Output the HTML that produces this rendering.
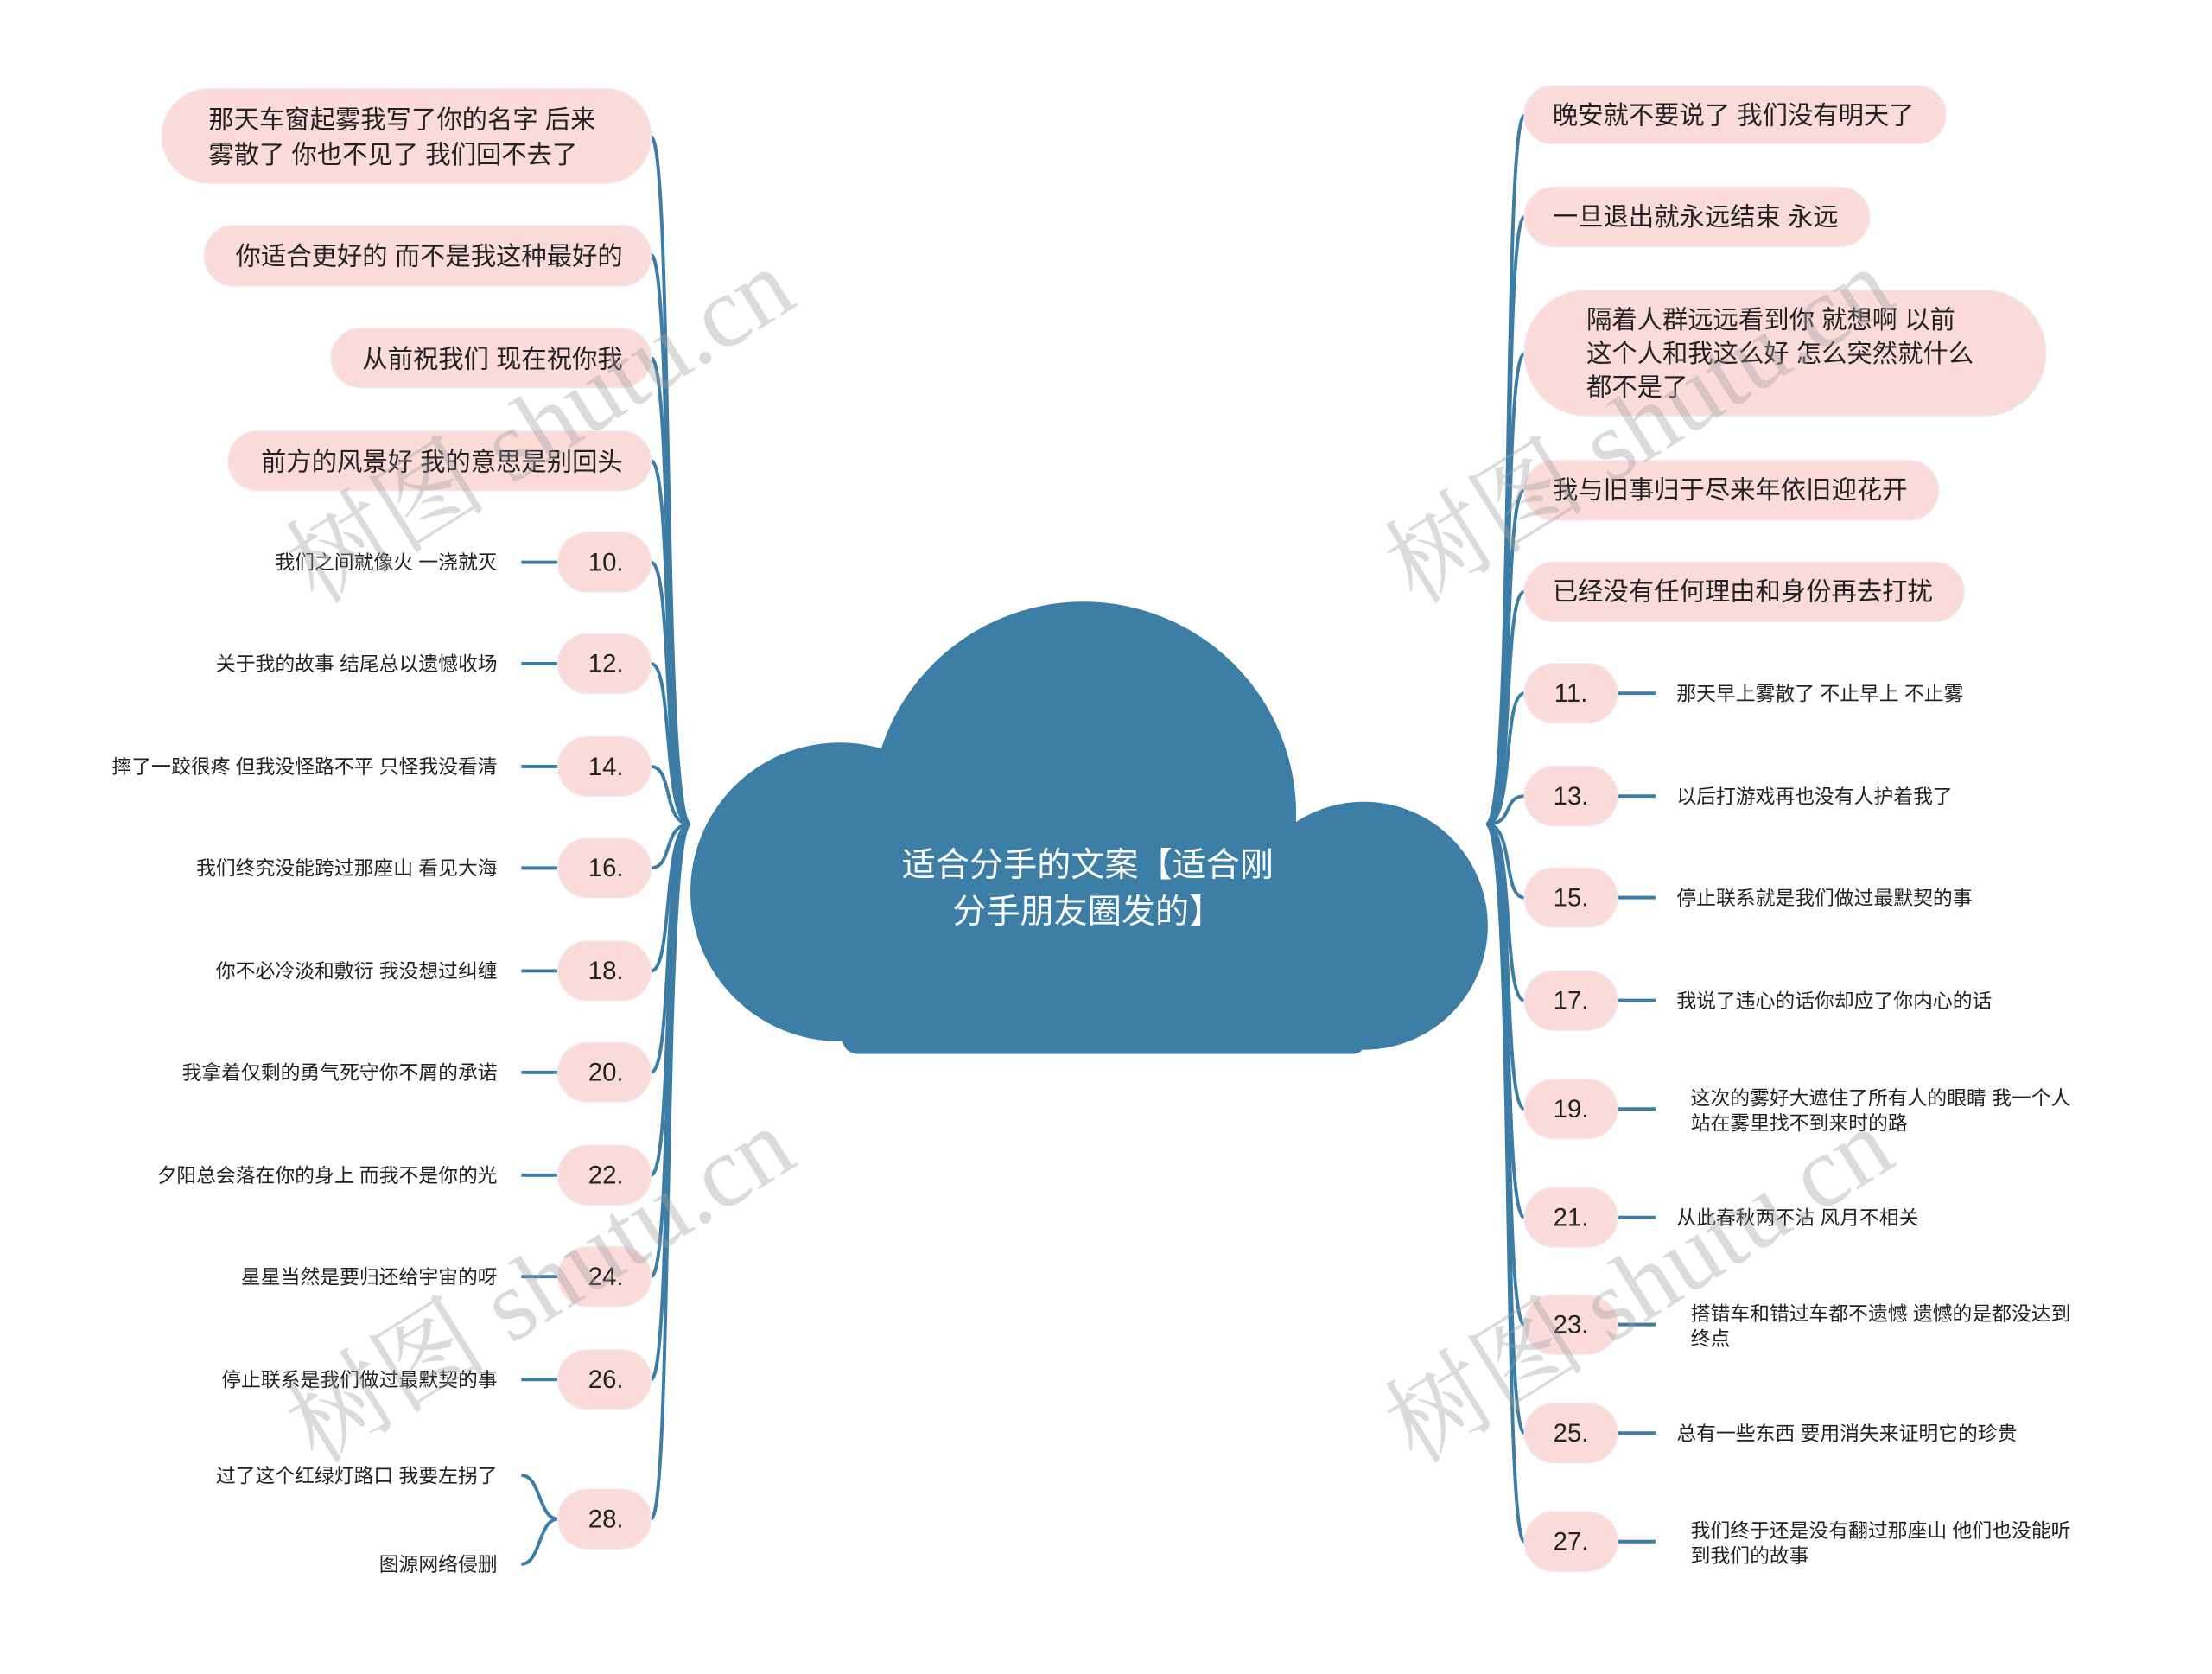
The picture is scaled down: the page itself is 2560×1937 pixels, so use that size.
<!DOCTYPE html>
<html><head><meta charset="utf-8"><style>
html,body{margin:0;padding:0;background:#fff;}
svg{display:block;}
text{font-family:"Liberation Sans","Noto Sans CJK SC",sans-serif;fill:#222;}
.p{fill:#fbdada;stroke:#f6e4e4;stroke-width:1;}
.c{fill:none;stroke:#3c7ca5;stroke-width:2.4;}
.w{font-family:"Liberation Serif","Noto Serif CJK SC",serif;fill:rgba(160,160,160,0.38);font-size:72px;}
</style></head><body>
<svg width="2560" height="1937" viewBox="0 0 1570 1188" xmlns="http://www.w3.org/2000/svg">
<g fill="#3d7ea6">
<circle cx="769" cy="578" r="151"/>
<circle cx="596" cy="633" r="106"/>
<circle cx="968" cy="657" r="88"/>
<path d="M596 600 H968 V740 Q968 748 960 748 H610 Q600 748 598 739 Z"/>
</g>
<text x="772" y="622" text-anchor="middle" font-size="24" style="fill:#fff">适合分手的文案【适合刚</text>
<text x="772" y="655" text-anchor="middle" font-size="24" style="fill:#fff">分手朋友圈发的】</text>

<g class="c">
<path d="M490 585 C470 585 478 97 462 97"/>
<path d="M490 585 C470 585 478 181 462 181"/>
<path d="M490 585 C470 585 478 254 462 254"/>
<path d="M490 585 C470 585 478 327 462 327"/>
<path d="M490 585 C470 585 478 399 462 399"/>
<path d="M490 585 C470 585 478 471 462 471"/>
<path d="M490 585 C470 585 478 544 462 544"/>
<path d="M490 585 C470 585 478 616 462 616"/>
<path d="M490 585 C470 585 478 689 462 689"/>
<path d="M490 585 C470 585 478 761 462 761"/>
<path d="M490 585 C470 585 478 834 462 834"/>
<path d="M490 585 C470 585 478 906 462 906"/>
<path d="M490 585 C470 585 478 979 462 979"/>
<path d="M490 585 C470 585 478 1078 462 1078"/>
<path d="M370 399 H396 M370 471 H396 M370 544 H396 M370 616 H396 M370 689 H396 M370 761 H396 M370 834 H396 M370 906 H396 M370 979 H396"/>
<path d="M396 1078 C382 1078 384 1047 370 1047 M396 1078 C382 1078 384 1110 370 1110"/>
</g>
<g class="c">
<path d="M1055 585 C1075 585 1066 82 1082 82"/>
<path d="M1055 585 C1075 585 1066 154 1082 154"/>
<path d="M1055 585 C1075 585 1066 251 1082 251"/>
<path d="M1055 585 C1075 585 1066 348 1082 348"/>
<path d="M1055 585 C1075 585 1066 420 1082 420"/>
<path d="M1055 585 C1075 585 1066 492 1082 492"/>
<path d="M1055 585 C1075 585 1066 565 1082 565"/>
<path d="M1055 585 C1075 585 1066 637 1082 637"/>
<path d="M1055 585 C1075 585 1066 710 1082 710"/>
<path d="M1055 585 C1075 585 1066 787 1082 787"/>
<path d="M1055 585 C1075 585 1066 864 1082 864"/>
<path d="M1055 585 C1075 585 1066 940 1082 940"/>
<path d="M1055 585 C1075 585 1066 1017 1082 1017"/>
<path d="M1055 585 C1075 585 1066 1094 1082 1094"/>
<path d="M1148 492 H1175 M1148 565 H1175 M1148 637 H1175 M1148 710 H1175 M1148 787 H1175 M1148 864 H1175 M1148 940 H1175 M1148 1017 H1175 M1148 1094 H1175"/>
</g>

<rect class="p" x="115" y="63" width="347" height="67" rx="33"/>
<text x="148" y="91" font-size="18">那天车窗起雾我写了你的名字 后来</text>
<text x="148" y="116" font-size="18">雾散了 你也不见了 我们回不去了</text>
<rect class="p" x="145" y="160" width="317" height="43" rx="21"/>
<text x="442" y="188" font-size="18" text-anchor="end">你适合更好的 而不是我这种最好的</text>
<rect class="p" x="235" y="233" width="227" height="42" rx="21"/>
<text x="442" y="261" font-size="18" text-anchor="end">从前祝我们 现在祝你我</text>
<rect class="p" x="162" y="306" width="300" height="42" rx="21"/>
<text x="442" y="334" font-size="18" text-anchor="end">前方的风景好 我的意思是别回头</text>

<g font-size="18" text-anchor="middle">
<rect class="p" x="396" y="378" width="66" height="42" rx="21"/><text x="430" y="405">10.</text>
<rect class="p" x="396" y="450" width="66" height="42" rx="21"/><text x="430" y="477">12.</text>
<rect class="p" x="396" y="523" width="66" height="42" rx="21"/><text x="430" y="550">14.</text>
<rect class="p" x="396" y="595" width="66" height="42" rx="21"/><text x="430" y="622">16.</text>
<rect class="p" x="396" y="668" width="66" height="42" rx="21"/><text x="430" y="695">18.</text>
<rect class="p" x="396" y="740" width="66" height="42" rx="21"/><text x="430" y="767">20.</text>
<rect class="p" x="396" y="813" width="66" height="42" rx="21"/><text x="430" y="840">22.</text>
<rect class="p" x="396" y="885" width="66" height="42" rx="21"/><text x="430" y="912">24.</text>
<rect class="p" x="396" y="958" width="66" height="42" rx="21"/><text x="430" y="985">26.</text>
<rect class="p" x="396" y="1057" width="66" height="42" rx="21"/><text x="430" y="1084">28.</text>
</g>
<g font-size="14" text-anchor="end">
<text x="353" y="404">我们之间就像火 一浇就灭</text>
<text x="353" y="476">关于我的故事 结尾总以遗憾收场</text>
<text x="353" y="549">摔了一跤很疼 但我没怪路不平 只怪我没看清</text>
<text x="353" y="621">我们终究没能跨过那座山 看见大海</text>
<text x="353" y="694">你不必冷淡和敷衍 我没想过纠缠</text>
<text x="353" y="766">我拿着仅剩的勇气死守你不屑的承诺</text>
<text x="353" y="839">夕阳总会落在你的身上 而我不是你的光</text>
<text x="353" y="911">星星当然是要归还给宇宙的呀</text>
<text x="353" y="984">停止联系是我们做过最默契的事</text>
<text x="353" y="1052">过了这个红绿灯路口 我要左拐了</text>
<text x="353" y="1115">图源网络侵删</text>
</g>

<rect class="p" x="1082" y="61" width="299" height="41" rx="20"/>
<text x="1102" y="88" font-size="18">晚安就不要说了 我们没有明天了</text>
<rect class="p" x="1082" y="133" width="245" height="42" rx="21"/>
<text x="1102" y="160" font-size="18">一旦退出就永远结束 永远</text>
<rect class="p" x="1082" y="206" width="370" height="89" rx="44"/>
<text x="1126" y="233" font-size="18">隔着人群远远看到你 就想啊 以前</text>
<text x="1126" y="257" font-size="18">这个人和我这么好 怎么突然就什么</text>
<text x="1126" y="281" font-size="18">都不是了</text>
<rect class="p" x="1082" y="327" width="294" height="42" rx="21"/>
<text x="1102" y="354" font-size="18">我与旧事归于尽来年依旧迎花开</text>
<rect class="p" x="1082" y="399" width="312" height="42" rx="21"/>
<text x="1102" y="426" font-size="18">已经没有任何理由和身份再去打扰</text>

<g font-size="18" text-anchor="middle">
<rect class="p" x="1082" y="471" width="66" height="42" rx="21"/><text x="1115" y="498">11.</text>
<rect class="p" x="1082" y="544" width="66" height="42" rx="21"/><text x="1115" y="571">13.</text>
<rect class="p" x="1082" y="616" width="66" height="42" rx="21"/><text x="1115" y="643">15.</text>
<rect class="p" x="1082" y="689" width="66" height="42" rx="21"/><text x="1115" y="716">17.</text>
<rect class="p" x="1082" y="766" width="66" height="42" rx="21"/><text x="1115" y="793">19.</text>
<rect class="p" x="1082" y="843" width="66" height="42" rx="21"/><text x="1115" y="870">21.</text>
<rect class="p" x="1082" y="919" width="66" height="42" rx="21"/><text x="1115" y="946">23.</text>
<rect class="p" x="1082" y="996" width="66" height="42" rx="21"/><text x="1115" y="1023">25.</text>
<rect class="p" x="1082" y="1073" width="66" height="42" rx="21"/><text x="1115" y="1100">27.</text>
</g>
<g font-size="14">
<text x="1190" y="497">那天早上雾散了 不止早上 不止雾</text>
<text x="1190" y="570">以后打游戏再也没有人护着我了</text>
<text x="1190" y="642">停止联系就是我们做过最默契的事</text>
<text x="1190" y="715">我说了违心的话你却应了你内心的话</text>
<text x="1200" y="784">这次的雾好大遮住了所有人的眼睛 我一个人</text>
<text x="1200" y="802">站在雾里找不到来时的路</text>
<text x="1190" y="869">从此春秋两不沾 风月不相关</text>
<text x="1200" y="937">搭错车和错过车都不遗憾 遗憾的是都没达到</text>
<text x="1200" y="955">终点</text>
<text x="1190" y="1022">总有一些东西 要用消失来证明它的珍贵</text>
<text x="1200" y="1091">我们终于还是没有翻过那座山 他们也没能听</text>
<text x="1200" y="1109">到我们的故事</text>
</g>

<text class="w" transform="translate(225,430) rotate(-32)">树图 shutu.cn</text>
<text class="w" transform="translate(1005,430) rotate(-32)">树图 shutu.cn</text>
<text class="w" transform="translate(225,1040) rotate(-32)">树图 shutu.cn</text>
<text class="w" transform="translate(1005,1040) rotate(-32)">树图 shutu.cn</text>
</svg>
</body></html>
